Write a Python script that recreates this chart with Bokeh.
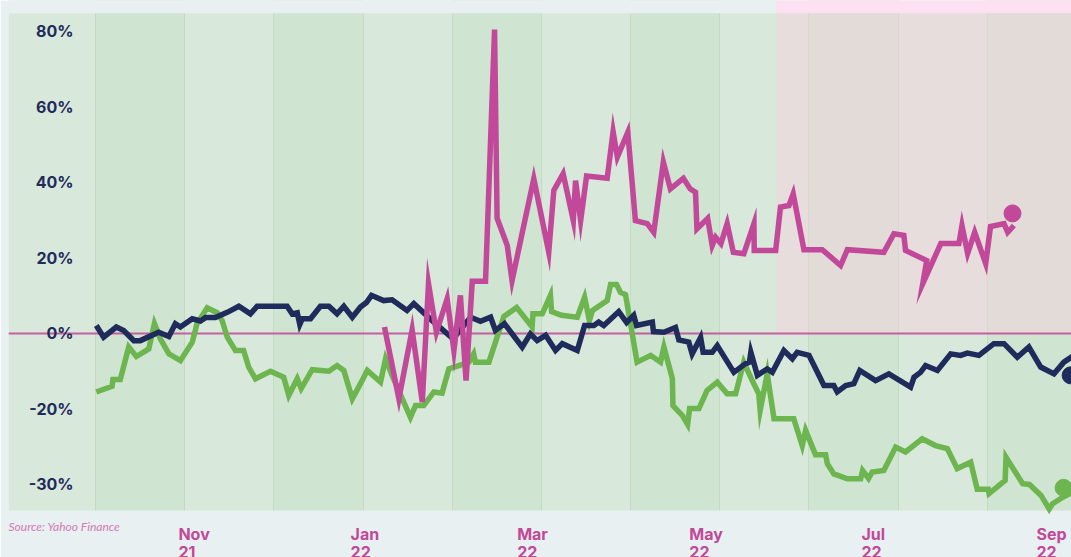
import numpy as np
import pandas as pd
from bokeh.plotting import figure
from bokeh.models import (ColumnDataSource, FixedTicker, LabelSet, Label,
                          BoxAnnotation, Span, Range1d)
from bokeh.embed import file_html
from bokeh.resources import INLINE
from bokeh.core.properties import value

# ---------------- data ----------------
BASE = pd.Timestamp("2021-11-01")   # x values are days since this date

navy_days = [-29.1, -26.5, -22.0, -19.4, -17.0, -15.8, -13.5, -7.0, -3.4, -1.1, 0.7, 4.9, 7.8, 9.6,
             13.1, 17.3, 21.4, 25.5, 27.9, 38.5, 40.3, 42.1, 43.0, 43.9, 46.8, 50.3, 53.3, 56.2,
             58.6, 61.6, 64.5, 66.6, 68.4, 72.7, 75.7, 81.0, 83.4, 89.9, 97.3, 103.5, 107.0,
             110.6, 112.3, 115.5, 121.8, 124.7, 127.1, 130.1, 133.6, 136.0, 141.3, 143.9, 147.2,
             148.9, 150.7, 156.0, 158.8, 161.3, 162.3, 167.9, 168.3, 172.0, 176.1, 177.3, 180.8,
             182.0, 185.0, 185.9, 189.1, 190.9, 196.8, 200.9, 202.3, 202.8, 205.1, 208.6, 210.4,
             214.5, 217.5, 219.2, 223.4, 228.7, 232.2, 233.4, 236.4, 239.3, 241.4, 247.0, 251.7,
             259.4, 260.6, 262.9, 264.7, 268.9, 273.6, 277.1, 279.5, 283.6, 288.9, 292.5, 297.2,
             301.3, 305.5, 310.2, 313.7, 317.9]
navy_pct = [2.1, -1.0, 1.7, 0.8, -1.0, -1.9, -1.9, 0.3, -0.8, 2.6, 1.7, 3.9, 3.3, 4.2,
            4.2, 5.6, 7.2, 5.2, 7.2, 7.2, 5.2, 5.5, 2.4, 3.9, 3.9, 7.2, 7.2, 5.2,
            7.2, 4.3, 7.0, 8.2, 10.1, 8.7, 8.9, 6.1, 7.9, 3.4, -1.4, 4.3, 3.2,
            4.3, 0.8, 2.6, -3.6, -0.1, -1.9, -0.5, -4.5, -2.7, -4.5, 2.1, 2.1,
            3.0, 2.1, 5.8, 2.9, 4.8, 2.1, 3.0, 0.5, 0.3, 1.6, -1.7, -2.3,
            -5.4, -1.1, -5.0, -5.0, -3.2, -10.3, -8.0, -7.6, -5.0, -11.1, -9.4, -10.3,
            -4.5, -6.7, -5.0, -5.8, -13.8, -13.8, -15.5, -13.8, -13.3, -9.8, -12.5, -10.7,
            -14.2, -11.6, -10.3, -8.5, -9.8, -5.4, -5.8, -5.2, -5.8, -2.7, -2.7, -6.3,
            -3.6, -8.9, -10.7, -7.6, -5.5]

green_days = [-29.1, -23.5, -23.2, -20.6, -17.6, -14.9, -10.5, -8.5, -6.4, -3.4, 0.7, 4.9, 6.6,
              10.2, 13.7, 15.5, 17.3, 20.2, 23.1, 24.9, 27.3, 32.6, 37.3, 39.1, 42.1, 43.5, 47.4,
              53.3, 56.2, 58.6, 61.6, 64.5, 66.9, 71.6, 73.4, 75.7, 82.2, 84.0, 86.9, 90.5, 93.4,
              95.8, 99.3, 102.9, 104.6, 105.2, 110.0, 115.3, 119.8, 125.3, 125.6, 128.9, 131.8,
              132.2, 135.7, 141.3, 143.9, 145.6, 146.7, 151.9, 153.1, 155.2, 156.6, 158.4, 162.5,
              167.3, 170.8, 172.0, 175.0, 175.2, 178.5, 180.4, 181.1, 184.4, 187.3, 190.9, 194.4,
              197.4, 200.3, 203.3, 205.6, 206.1, 208.6, 211.0, 218.0, 221.0, 222.2, 225.7, 229.3,
              229.9, 232.2, 237.0, 241.7, 242.4, 244.5, 245.8, 249.9, 254.1, 257.6, 263.5, 268.2,
              272.4, 275.9, 280.7, 283.0, 286.9, 287.2, 292.9, 293.2, 299.1, 301.5, 305.6, 308.5,
              309.7, 313.3, 317.9]
green_pct = [-15.5, -14.0, -12.2, -12.2, -3.6, -6.1, -4.1, 2.6, -1.4, -5.4, -7.2, -2.3, 2.6,
             6.8, 5.5, 3.4, -1.0, -4.5, -4.5, -8.9, -12.0, -10.0, -11.6, -16.4, -12.0, -14.6, -9.6,
             -10.0, -8.5, -9.8, -17.3, -13.3, -9.8, -12.9, -6.7, -11.1, -22.2, -19.1, -19.1, -15.5, -15.8,
             -9.4, -8.5, -7.6, -5.4, -7.6, -7.6, 4.5, 6.9, 1.7, 5.2, 5.2, 10.1,
             5.8, 4.8, 4.3, 9.6, 3.4, 6.1, 8.7, 13.0, 13.0, 10.9, 10.3, -7.6,
             -5.8, -7.6, -3.6, -12.0, -19.1, -21.7, -24.1, -19.9, -19.9, -15.1, -12.9, -16.0,
             -16.0, -7.6, -12.5, -16.0, -20.4, -10.7, -22.6, -22.6, -29.7, -25.7, -32.1, -32.1,
             -34.5, -37.2, -38.5, -38.5, -36.3, -38.4, -36.7, -36.3, -30.1, -31.4, -27.9, -29.7,
             -30.5, -35.8, -34.1, -41.3, -41.3, -42.4, -38.9, -32.8, -39.8, -40.0, -42.9, -46.5,
             -45.1, -43.4, -41.6]

magenta_days = [73.0, 78.1, 82.8, 86.4, 88.6, 91.4, 95.2, 97.6, 99.9, 101.9, 104.1, 108.8, 112.0,
                112.9, 116.5, 118.2, 125.9, 131.2, 133.0, 136.3, 139.9, 140.7, 142.5, 144.6, 151.9,
                154.0, 155.5, 159.2, 161.9, 166.1, 168.4, 171.8, 174.3, 178.9, 181.3, 183.2, 183.7,
                187.5, 189.1, 190.3, 192.2, 194.4, 196.6, 200.3, 203.9, 204.0, 211.6, 213.3, 216.3,
                217.8, 221.6, 228.1, 234.6, 237.0, 249.9, 253.5, 257.0, 257.6, 265.1, 263.7, 270.1,
                276.5, 277.6, 279.6, 282.1, 286.0, 287.7, 292.5, 293.8, 296.0]
magenta_pct = [1.7, -17.3, 1.0, -18.2, 13.2, 0.3, 9.2, -4.5, 10.1, -12.5, 13.8, 13.8, 80.5,
               30.5, 23.3, 14.0, 41.0, 21.5, 37.9, 42.3, 29.9, 40.5, 29.9, 41.7, 41.1,
               53.5, 46.7, 53.3, 29.9, 29.1, 26.8, 45.4, 38.3, 41.1, 38.3, 37.4, 27.7,
               30.5, 23.3, 25.5, 23.8, 29.1, 21.5, 21.1, 29.1, 22.0, 22.0, 33.5, 33.9,
               37.0, 22.2, 22.2, 18.0, 22.2, 21.5, 26.4, 26.0, 22.0, 19.3, 13.2, 23.8,
               23.8, 28.6, 21.2, 26.8, 18.5, 28.3, 29.1, 26.8, 28.6]

# end-of-series markers
dot_days = [316.1, 313.6, 295.5]
dot_pct = [-11.1, -40.9, 31.8]

tick_dates = ["2021-11-01", "2022-01-01", "2022-03-01", "2022-05-01", "2022-07-01", "2022-09-01"]
tick_labels = ["Nov\n21", "Jan\n22", "Mar\n22", "May\n22", "Jul\n22", "Sep\n22"]
y_ticks = [80, 60, 40, 20, 0, -20, -40]
y_labels = ["80%", "60%", "40%", "20%", "0%", "-20%", "-30%"]
highlight_start = "2022-06-01"
source_text = "Source: Yahoo Finance"

# ---------------- styling ----------------
NAVY = "#1f2b5a"
GREEN = "#6db54f"
MAGENTA = "#c2489a"
BORDER = "#e8f0f1"
X_START, X_END = -60.2, 316.4
Y_START, Y_END = -59.35, 88.2    # y range of the whole drawing area
PANEL_TOP, PANEL_BOTTOM = 84.8, -46.9   # the green/pink chart panel
FONT = "Inter"

month_days = [(pd.Timestamp(d) - BASE).days for d in tick_dates]
hl_day = (pd.Timestamp(highlight_start) - BASE).days
grid_days = list(np.arange(-29.4, X_END, 31.6))

p = figure(width=1071, height=557, output_backend="svg", toolbar_location=None,
           x_range=Range1d(X_START, X_END), y_range=Range1d(Y_START, Y_END),
           x_axis_location=None, y_axis_location=None,
           min_border_left=8, min_border_right=0, min_border_top=0, min_border_bottom=0)
p.background_fill_color = "#d8e8db"
p.border_fill_color = BORDER
p.outline_line_color = None

p.ygrid.visible = False
p.xgrid.ticker = FixedTicker(ticks=grid_days)
p.xgrid.grid_line_color = "#c3dcbf"
p.xgrid.grid_line_width = 1
p.xgrid.band_fill_color = "#cfe4d1"
p.xgrid.band_fill_alpha = 1.0

# highlighted period (inside the panel)
p.add_layout(BoxAnnotation(left=hl_day, bottom=0, top=PANEL_TOP, fill_color="#f6d2dd",
                           fill_alpha=0.5, line_color=None, level="underlay"))
# strip above the panel: plain on the left, pink over the highlighted period
p.add_layout(BoxAnnotation(right=hl_day, bottom=PANEL_TOP, fill_color=BORDER,
                           fill_alpha=1.0, line_color=None, level="underlay"))
p.add_layout(BoxAnnotation(left=hl_day, bottom=PANEL_TOP, fill_color="#fde0f1",
                           fill_alpha=1.0, line_color=None, level="underlay"))
# strip below the panel, holding the date labels
p.add_layout(BoxAnnotation(top=PANEL_BOTTOM, fill_color=BORDER,
                           fill_alpha=1.0, line_color=None, level="underlay"))

p.add_layout(Span(location=0, dimension="width", line_color=MAGENTA, line_width=2,
                  line_alpha=0.85, level="underlay"))

LW = 5.5
p.line(green_days, green_pct, line_color=GREEN, line_width=LW, line_join="miter")
p.line(navy_days, navy_pct, line_color=NAVY, line_width=LW, line_join="miter")
p.line(magenta_days, magenta_pct, line_color=MAGENTA, line_width=LW, line_join="miter")
p.scatter(dot_days, dot_pct, size=17, color=[NAVY, GREEN, MAGENTA])

# y tick labels drawn inside the panel
ysrc = ColumnDataSource(dict(y=y_ticks, text=y_labels))
p.add_layout(LabelSet(x=65, x_units="screen", y="y", text="text", source=ysrc,
                      text_align="right", text_baseline="middle",
                      text_font=value(FONT), text_font_style="bold",
                      text_font_size="16px", text_color=NAVY))

# x tick labels below the panel
xsrc = ColumnDataSource(dict(x=month_days, text=tick_labels))
p.add_layout(LabelSet(x="x", y=34, y_units="screen", text="text", source=xsrc,
                      text_align="left", text_baseline="top", text_line_height=0.9,
                      text_font=value(FONT), text_font_style="bold",
                      text_font_size="16px", text_color=MAGENTA))

p.add_layout(Label(x=0, y=39, x_units="screen", y_units="screen", text=source_text,
                   text_align="left", text_baseline="top", text_font="Lato",
                   text_font_style="italic", text_font_size="12px", text_color="#d27ab5"))

open("out.html", "w").write(file_html(p, INLINE))
